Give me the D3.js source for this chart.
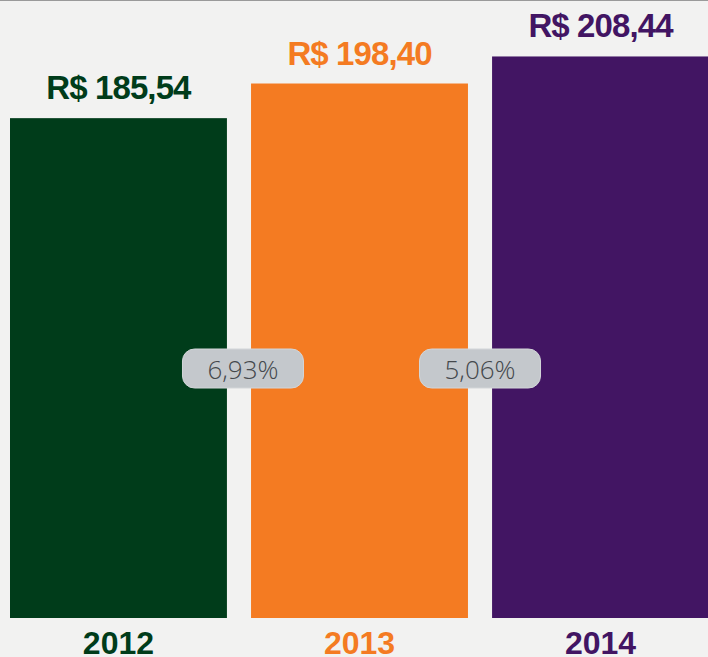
<!DOCTYPE html>
<html>
<head>
<meta charset="utf-8">
<script src="https://cdn.jsdelivr.net/npm/d3@7"></script>
<style>
  html, body { margin: 0; padding: 0; background: #f2f2f1; }
  svg { display: block; }
  .value { font-family: "Liberation Sans", Arial, sans-serif; font-weight: 700; font-size: 33px; letter-spacing: -0.9px; }
  .year { font-family: "Liberation Sans", Arial, sans-serif; font-weight: 700; font-size: 32px; }
  .pct { font-family: "Open Sans", sans-serif; font-weight: 300; font-size: 26px; fill: #45484c; }
</style>
</head>
<body>
<div id="chart"></div>
<script>
"use strict";

// data
var years = ["2012", "2013", "2014"];
var values = [185.54, 198.40, 208.44];
var valueLabels = ["R$ 185,54", "R$ 198,40", "R$ 208,44"];
var colors = ["#003c1a", "#f47b22", "#421563"];
var growth = ["6,93%", "5,06%"];

var width = 708, height = 657, baseline = 618;

var svg = d3.select("#chart").append("svg")
  .attr("width", width)
  .attr("height", height);

// paper background + thin grey rule on top
svg.append("rect")
  .attr("width", width).attr("height", height)
  .attr("fill", "#f2f2f1");
svg.append("line")
  .attr("x1", 0).attr("x2", width)
  .attr("y1", 0.5).attr("y2", 0.5)
  .attr("stroke", "#9a9a9a");

var x = d3.scaleBand()
  .domain(years)
  .range([10, 709])
  .paddingInner(0.1)
  .paddingOuter(0);

var y = d3.scaleLinear()
  .domain([0, 229.4])
  .range([baseline, 0]);

var rows = years.map(function (yr, i) {
  return { year: yr, value: values[i], label: valueLabels[i], color: colors[i] };
});

var bar = svg.selectAll(".bar")
  .data(rows).enter().append("g")
    .attr("class", "bar");

bar.append("rect")
  .attr("x", function (d) { return x(d.year); })
  .attr("y", function (d) { return y(d.value); })
  .attr("width", x.bandwidth())
  .attr("height", function (d) { return baseline - y(d.value); })
  .attr("fill", function (d) { return d.color; });

bar.append("text")
  .attr("class", "value")
  .attr("x", function (d) { return x(d.year) + x.bandwidth() / 2; })
  .attr("y", function (d) { return y(d.value) - 19; })
  .attr("text-anchor", "middle")
  .attr("fill", function (d) { return d.color; })
  .text(function (d) { return d.label; });

bar.append("text")
  .attr("class", "year")
  .attr("x", function (d) { return x(d.year) + x.bandwidth() / 2; })
  .attr("y", 654)
  .attr("text-anchor", "middle")
  .attr("fill", function (d) { return d.color; })
  .text(function (d) { return d.year; });

// growth pills sit in the gap between neighbouring bars
var pillW = 121, pillH = 39, pillY = 349;
var gap = x.step() - x.bandwidth();

var pill = svg.selectAll(".pill")
  .data(growth).enter().append("g")
    .attr("class", "pill")
    .attr("transform", function (d, i) {
      var cx = x(years[i]) + x.bandwidth() + gap / 2 + (i === 0 ? 4 : 0);
      return "translate(" + cx + "," + pillY + ")";
    });

pill.append("rect")
  .attr("x", -pillW / 2)
  .attr("width", pillW)
  .attr("height", pillH)
  .attr("rx", 12)
  .attr("fill", "#c4c8cc")
  .attr("stroke", "#d3d6d9")
  .attr("stroke-width", 1);

pill.append("text")
  .attr("class", "pct")
  .attr("y", 30)
  .attr("text-anchor", "middle")
  .text(function (d) { return d; });
</script>
</body>
</html>
